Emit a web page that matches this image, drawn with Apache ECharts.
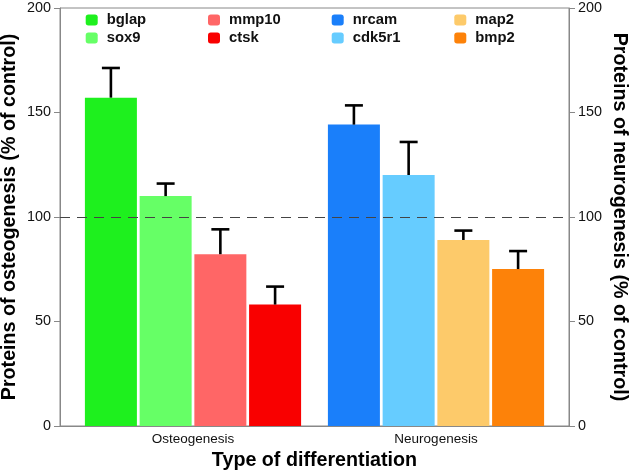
<!DOCTYPE html>
<html><head><meta charset="utf-8">
<script src="https://cdn.jsdelivr.net/npm/echarts@6/dist/echarts.min.js"></script>
<style>html,body{margin:0;padding:0;background:#fff}#c{width:630px;height:471px}</style>
</head><body><div id="c"></div>
<script>
const groups = ['Osteogenesis', 'Neurogenesis'];
const proteins = ['bglap', 'sox9', 'mmp10', 'ctsk', 'nrcam', 'cdk5r1', 'map2', 'bmp2'];
const proteinGroup = [0, 0, 0, 0, 1, 1, 1, 1];
const values = [157.1, 110.0, 82.2, 58.1, 144.2, 120.1, 89.0, 75.1];
const errors = [14.2, 6.0, 11.9, 8.6, 9.2, 15.8, 4.5, 8.6];
const controlLevel = 100;
const legendColumns = [['bglap', 'sox9'], ['mmp10', 'ctsk'], ['nrcam', 'cdk5r1'], ['map2', 'bmp2']];

const colors = ['#1ef01e', '#66ff66', '#ff6666', '#f90000', '#1a7ffa', '#66ccff', '#fdca6a', '#fd8209'];
const FONT = 'Liberation Sans, Arial, Helvetica, sans-serif';
const GROUP_EXTRA = 0.44;

// slot position of each bar on the hidden value axis
const slotInGroup = proteins.map((p, i) => proteinGroup.slice(0, i).filter(g => g === proteinGroup[i]).length);
const xPos = proteins.map((p, i) => slotInGroup[i] + proteinGroup[i] * (4 + GROUP_EXTRA));
const groupCenters = groups.map((g, gi) => 1.5 + gi * (4 + GROUP_EXTRA));

const chart = echarts.init(document.getElementById('c'), null, {renderer: 'canvas'});

const barSeries = proteins.map((p, i) => {
  const s = {
    type: 'bar', name: p, data: [[xPos[i], values[i]]],
    barWidth: 52, barGap: '-100%',
    itemStyle: {color: colors[i]},
    silent: true
  };
  if (i === 0) {
    s.markLine = {
      silent: true, symbol: ['none', 'none'], label: {show: false},
      lineStyle: {type: [10, 7], color: '#444', width: 1},
      data: [{yAxis: controlLevel}]
    };
  }
  return s;
});

const errSeries = {
  type: 'custom', name: 'error', silent: true, z: 10,
  data: proteins.map((p, i) => [xPos[i], values[i], values[i] + errors[i]]),
  encode: {x: 0, y: [1, 2]},
  renderItem: (params, api) => {
    const b = api.coord([api.value(0), api.value(1)]);
    const t = api.coord([api.value(0), api.value(2)]);
    const cap = 9;
    return {type: 'group', children: [
      {type: 'line', shape: {x1: b[0], y1: b[1], x2: t[0], y2: t[1]}, style: {stroke: '#000', lineWidth: 2.6}},
      {type: 'line', shape: {x1: t[0] - cap, y1: t[1], x2: t[0] + cap, y2: t[1]}, style: {stroke: '#000', lineWidth: 2.6}}
    ]};
  }
};

const legendLefts = [85.7, 208, 331.7, 454.3];
const legends = legendColumns.map((col, ci) => ({
  left: legendLefts[ci], top: 12.5, orient: 'vertical', padding: 0,
  itemWidth: 12, itemHeight: 11, itemGap: 3, icon: 'roundRect',
  selectedMode: false,
  data: col,
  textStyle: {fontFamily: FONT, fontWeight: 'bold', fontSize: 14.8, color: '#111', padding: [0, 0, 0, 4]}
}));

const yAxisBase = {
  type: 'value', min: 0, max: 200, interval: 50,
  axisLine: {show: true, onZero: false, lineStyle: {color: '#888', width: 1}},
  axisTick: {show: true, length: 6, lineStyle: {color: '#888'}},
  axisLabel: {fontFamily: FONT, fontSize: 14.4, color: '#111', margin: 9},
  splitLine: {show: false},
  nameLocation: 'middle',
  nameMoveOverlap: false,
  nameTextStyle: {fontFamily: FONT, fontWeight: 'bold', fontSize: 19.7, color: '#000'}
};

chart.setOption({
  animation: false,
  backgroundColor: '#fff',
  grid: {left: 60, right: 61, top: 8, bottom: 45, containLabel: false, outerBoundsMode: 'none',
         show: true, borderColor: '#888', borderWidth: 1},
  legend: legends,
  xAxis: {
    type: 'value', min: -0.93, max: 8.37,
    axisLine: {show: true, onZero: false, lineStyle: {color: '#888'}},
    axisTick: {show: false},
    splitLine: {show: false},
    axisLabel: {
      customValues: groupCenters,
      fontFamily: FONT, fontSize: 13.5, color: '#111', margin: 6,
      formatter: v => { const g = groupCenters.findIndex(c => Math.abs(c - v) < 1e-6); return g >= 0 ? groups[g] : ''; }
    },
    name: 'Type of differentiation', nameLocation: 'middle', nameGap: 20,
    nameTextStyle: {fontFamily: FONT, fontWeight: 'bold', fontSize: 19.7, color: '#000'}
  },
  yAxis: [
    Object.assign({}, yAxisBase, {position: 'left', name: 'Proteins of osteogenesis (% of control)', nameGap: 40, nameRotate: 90}),
    Object.assign({}, yAxisBase, {position: 'right', name: 'Proteins of neurogenesis (% of control)', nameGap: 40, nameRotate: -90})
  ],
  series: barSeries.concat([errSeries])
});
</script>
</body></html>
